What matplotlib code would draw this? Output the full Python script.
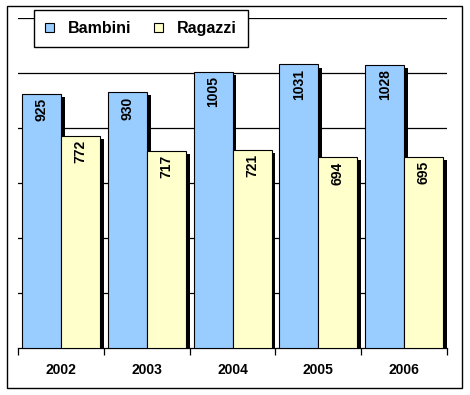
import matplotlib
matplotlib.use("Agg")
import matplotlib.pyplot as plt
from matplotlib.patches import Patch, Rectangle
import numpy as np

years = ["2002", "2003", "2004", "2005", "2006"]
bambini = [925, 930, 1005, 1031, 1028]
ragazzi = [772, 717, 721, 694, 695]
series_names = ["Bambini", "Ragazzi"]

plt.rcParams['font.family'] = ['Liberation Sans', 'DejaVu Sans']

W, H = 470, 395
fig = plt.figure(figsize=(W / 100, H / 100), dpi=100)
fig.patch.set_facecolor("white")

# outer frame
fig.patches.append(Rectangle((7 / W, 1 - 388 / H), (462 - 7) / W, (388 - 6) / H,
                             transform=fig.transFigure, fill=False,
                             edgecolor="black", linewidth=1.0))

ax = fig.add_axes([18 / W, 1 - 348 / H, (447 - 18) / W, (348 - 18) / H])
x = np.arange(len(years))
bw = 0.4545
off_b = -0.226
off_r = 0.2285
dx, dy = 0.045, 11

blue = "#99CCFF"
yellow = "#FFFFCC"

# shadows
ax.bar(x + off_b + dx, np.array(bambini) - dy, bw, color="black", zorder=2)
ax.bar(x + off_r + dx, np.array(ragazzi) - dy, bw, color="black", zorder=2)
# bars
ax.bar(x + off_b, bambini, bw, color=blue, edgecolor="black", linewidth=0.8, zorder=3)
ax.bar(x + off_r, ragazzi, bw, color=yellow, edgecolor="black", linewidth=0.8, zorder=3)

for xi, v in zip(x + off_b, bambini):
    ax.annotate(str(v), (xi, v), xytext=(0, -3), textcoords="offset points",
                rotation=90, ha="center", va="top", fontsize=10, fontweight="bold", zorder=5)
for xi, v in zip(x + off_r, ragazzi):
    ax.annotate(str(v), (xi, v), xytext=(0, -3), textcoords="offset points",
                rotation=90, ha="center", va="top", fontsize=10, fontweight="bold", zorder=5)

ax.set_xlim(-0.5, 4.5)
ax.set_ylim(0, 1200)
for yv in range(200, 1201, 200):
    ax.axhline(yv, color="black", linewidth=0.9, zorder=1)

ax.set_yticks([])
ax.set_xticks(np.arange(-0.5, 5.0, 1.0))
ax.set_xticklabels([])
ax.tick_params(axis="x", which="major", length=5, width=0.9, direction="out", color="black")
ax.set_xticks(x, minor=True)
ax.set_xticklabels(years, minor=True, fontsize=10, fontweight="bold")
ax.tick_params(axis="x", which="minor", length=0, pad=11)

for s in ["left", "right", "top"]:
    ax.spines[s].set_visible(False)
ax.spines["bottom"].set_linewidth(0.9)

handles = [Patch(facecolor=blue, edgecolor="black", linewidth=0.8),
           Patch(facecolor=yellow, edgecolor="black", linewidth=0.8)]
leg = fig.legend(handles, series_names, loc="upper left",
                 bbox_to_anchor=(34 / W, 1 - 10 / H), bbox_transform=fig.transFigure,
                 ncol=2, prop={"size": 11.5, "weight": "bold"}, frameon=True, fancybox=False,
                 handlelength=0.55, handleheight=0.55, handletextpad=0.9,
                 columnspacing=1.4, borderpad=0.7, borderaxespad=0)
leg.get_frame().set_edgecolor("black")
leg.get_frame().set_linewidth(1.0)
leg.get_frame().set_alpha(1)
leg.set_zorder(10)

fig.savefig("out.png", dpi=100)
